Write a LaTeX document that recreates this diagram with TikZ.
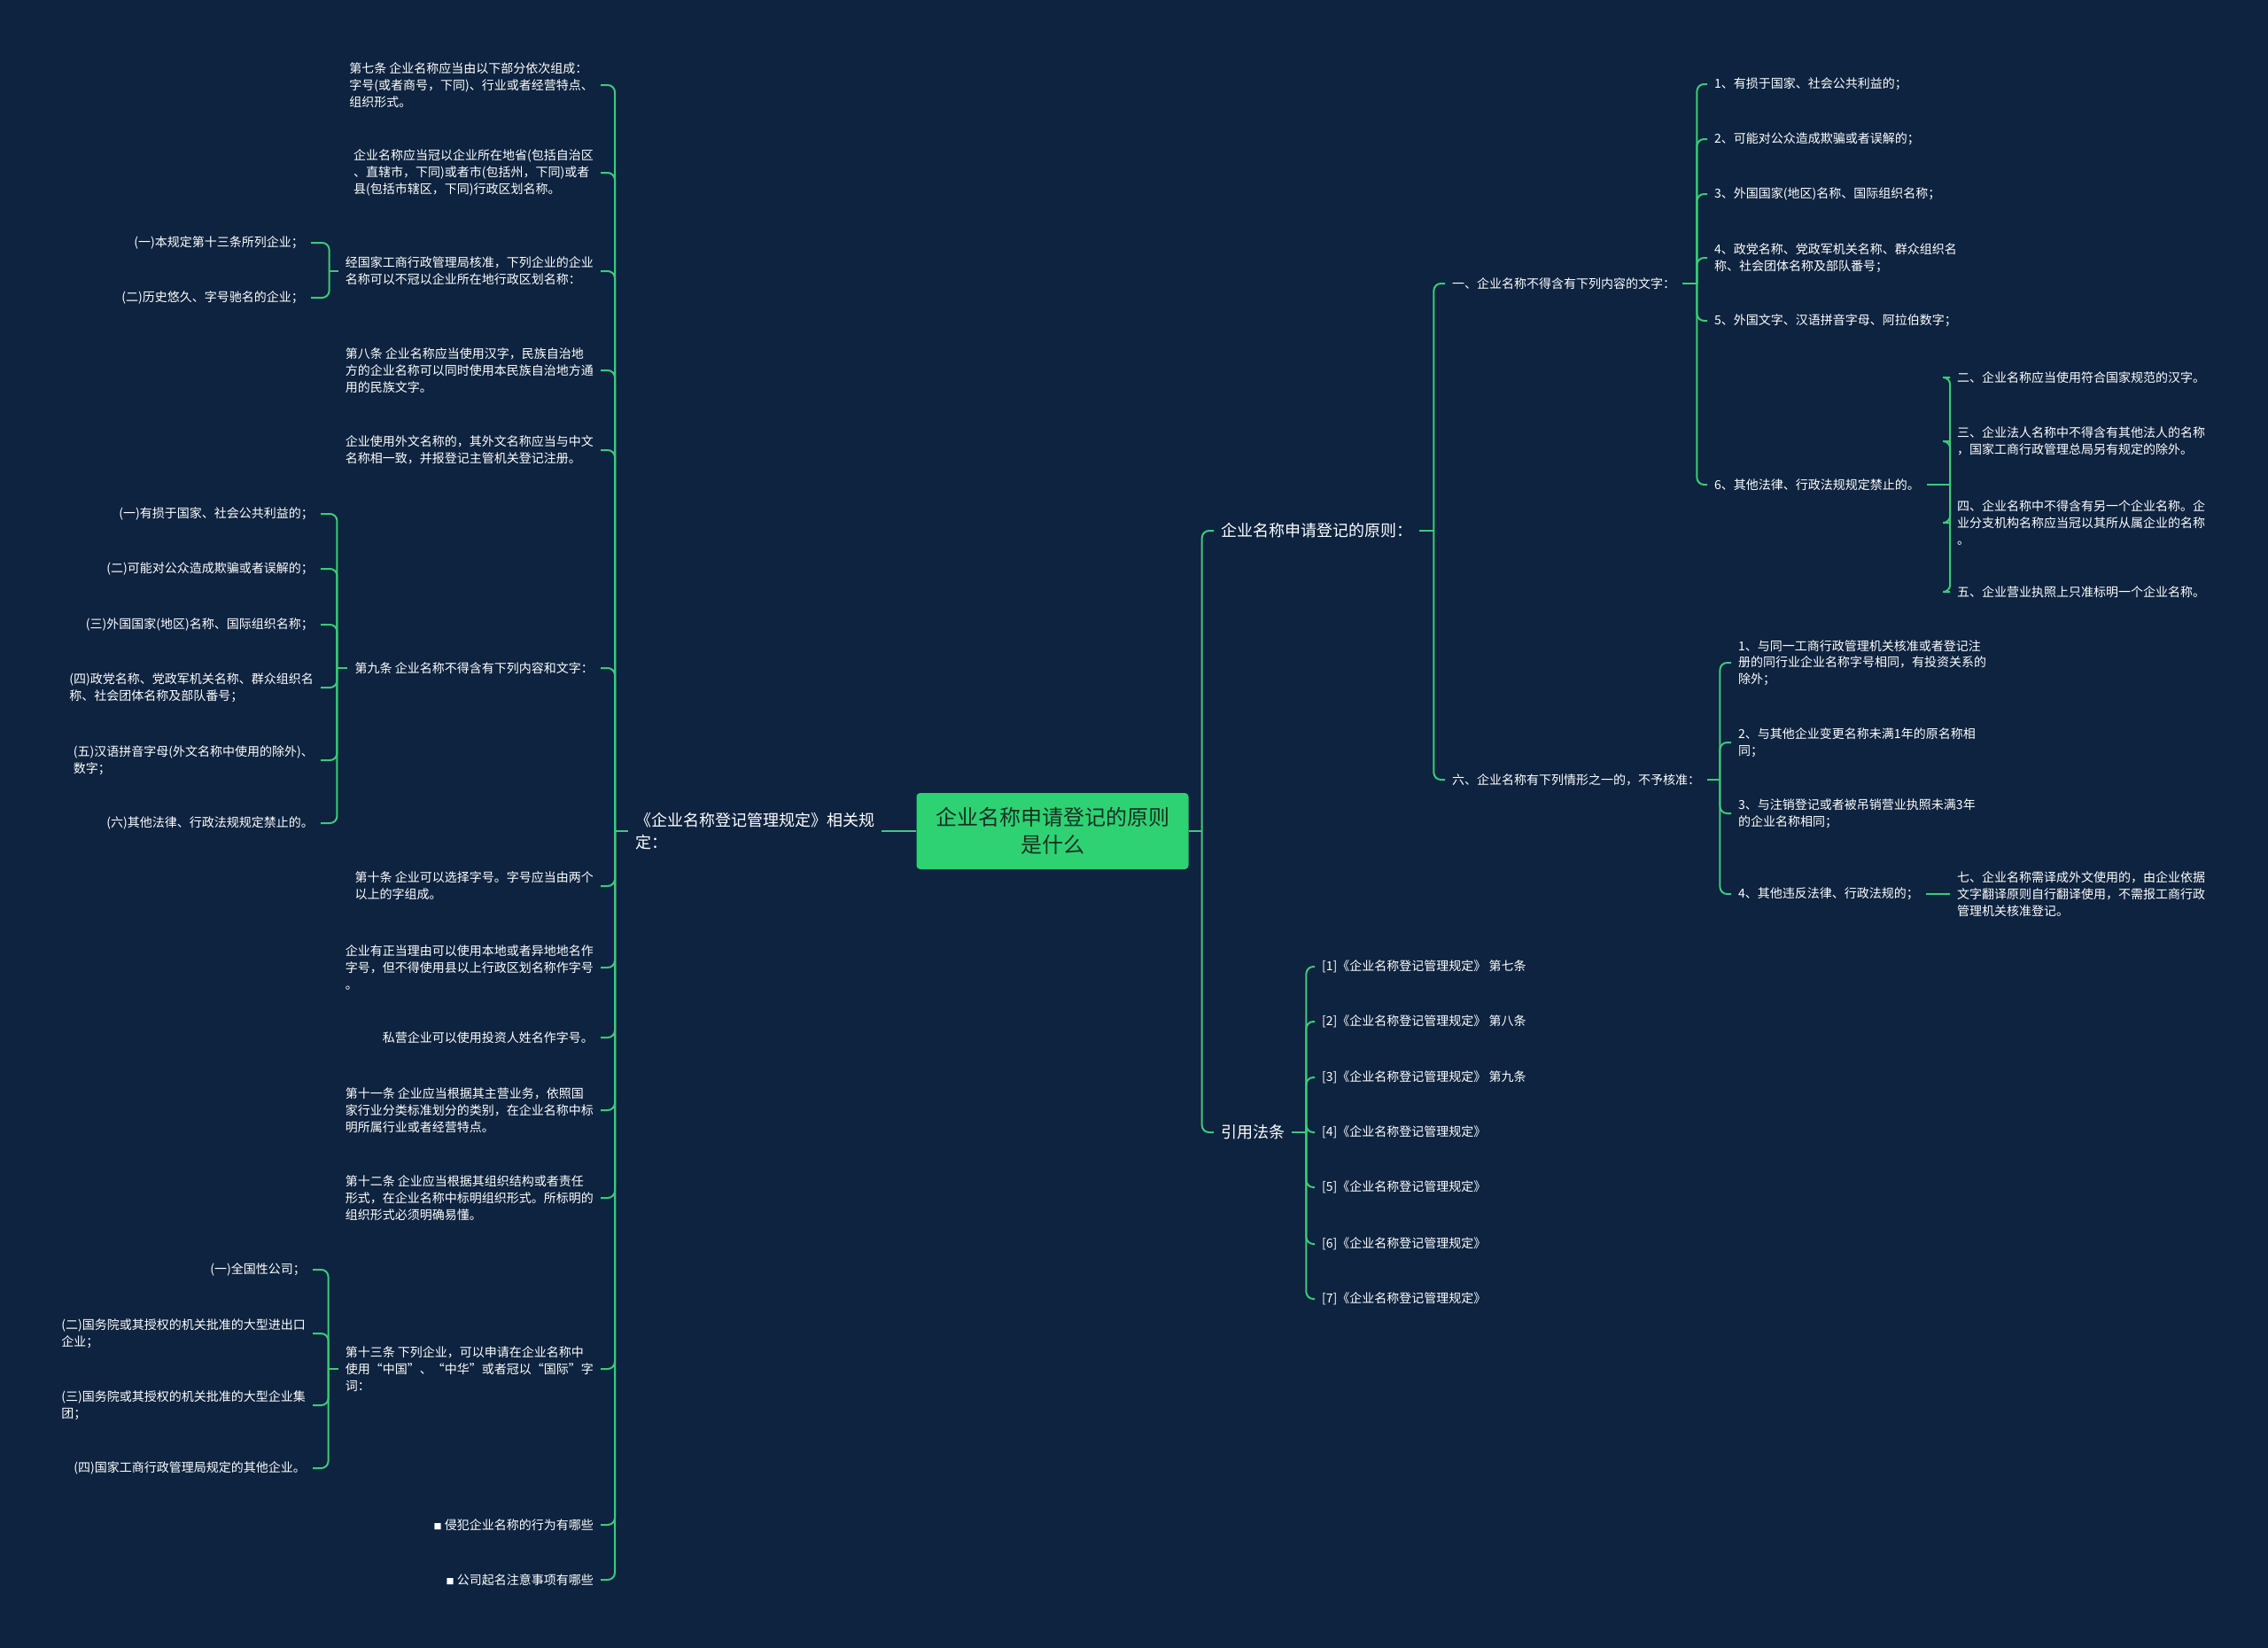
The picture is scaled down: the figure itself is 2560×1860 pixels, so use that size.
\documentclass[tikz,border=0pt]{standalone}
\usepackage{fontspec}
\setmainfont{Noto Sans CJK SC}
\definecolor{bgnavy}{RGB}{13,35,63}
\definecolor{linkgreen}{RGB}{62,201,122}
\definecolor{rootgreen}{RGB}{46,210,115}
\definecolor{roottext}{RGB}{24,48,36}
\newcommand{\mapbullet}{{\fontsize{9}{9}\selectfont ■}}

\begin{document}
\begin{tikzpicture}[
    x=1pt, y=-1pt,
    leaf/.style={inner xsep=8pt, inner ysep=2pt, text=white, align=left, font=\fontsize{14}{18.7}\selectfont},
    branch/.style={leaf, font=\fontsize{18}{25}\selectfont},
    root/.style={fill=rootgreen, text=roottext, rounded corners=4pt, minimum width=307pt, minimum height=86pt, align=center, font=\fontsize{24}{31}\selectfont},
    link/.style={draw=linkgreen, line width=2pt, rounded corners=8pt}
  ]
    \fill[bgnavy] (0,0) rectangle (2560,1860);
    \useasboundingbox (0,0) rectangle (2560,1860);
    \node[root] (root) at (1188,938) {企业名称申请登记的原则\\是什么};

    \node[branch, anchor=west] (law) at (709,938) {《企业名称登记管理规定》相关规\\定：};
    \draw[link] (root.west) -- (law.east);

    \node[leaf, anchor=east] (c7) at (678,96) {第七条 企业名称应当由以下部分依次组成：\\字号(或者商号，下同)、行业或者经营特点、\\组织形式。};
    \node[leaf, anchor=east] (c7b) at (678,195) {企业名称应当冠以企业所在地省(包括自治区\\、直辖市，下同)或者市(包括州，下同)或者\\县(包括市辖区，下同)行政区划名称。};
    \node[leaf, anchor=east] (cjg) at (678,306) {经国家工商行政管理局核准，下列企业的企业\\名称可以不冠以企业所在地行政区划名称：};
    \node[leaf, anchor=east] (c8) at (678,418) {第八条 企业名称应当使用汉字，民族自治地\\方的企业名称可以同时使用本民族自治地方通\\用的民族文字。};
    \node[leaf, anchor=east] (cwai) at (678,508) {企业使用外文名称的，其外文名称应当与中文\\名称相一致，并报登记主管机关登记注册。};
    \node[leaf, anchor=east] (c9) at (678,754) {第九条 企业名称不得含有下列内容和文字：};
    \node[leaf, anchor=east] (c10) at (678,1000) {第十条 企业可以选择字号。字号应当由两个\\以上的字组成。};
    \node[leaf, anchor=east] (c10b) at (678,1092) {企业有正当理由可以使用本地或者异地地名作\\字号，但不得使用县以上行政区划名称作字号\\。};
    \node[leaf, anchor=east] (c10c) at (678,1171) {私营企业可以使用投资人姓名作字号。};
    \node[leaf, anchor=east] (c11) at (678,1253) {第十一条 企业应当根据其主营业务，依照国\\家行业分类标准划分的类别，在企业名称中标\\明所属行业或者经营特点。};
    \node[leaf, anchor=east] (c12) at (678,1352) {第十二条 企业应当根据其组织结构或者责任\\形式，在企业名称中标明组织形式。所标明的\\组织形式必须明确易懂。};
    \node[leaf, anchor=east] (c13) at (678,1545) {第十三条 下列企业，可以申请在企业名称中\\使用“中国”、“中华”或者冠以“国际”字\\词：};
    \node[leaf, anchor=east] (lk1) at (678,1721) {\mapbullet\ 侵犯企业名称的行为有哪些};
    \node[leaf, anchor=east] (lk2) at (678,1783) {\mapbullet\ 公司起名注意事项有哪些};
    \draw[link] (law.west) -- ++(-15,0) coordinate (lawfork);
    \foreach \n in {c7,c7b,cjg,c8,cwai,c9,c10,c10b,c10c,c11,c12,c13,lk1,lk2}
      \draw[link] (lawfork) |- (\n.east);

    \node[leaf, anchor=east] (jg1) at (351,274) {(一)本规定第十三条所列企业；};
    \node[leaf, anchor=east] (jg2) at (351,336) {(二)历史悠久、字号驰名的企业；};
    \draw[link] (cjg.west) -- ++(-10,0) coordinate (jgfork);
    \foreach \n in {jg1,jg2}
      \draw[link] (jgfork) |- (\n.east);

    \node[leaf, anchor=east] (n1) at (362,580) {(一)有损于国家、社会公共利益的；};
    \node[leaf, anchor=east] (n2) at (362,642) {(二)可能对公众造成欺骗或者误解的；};
    \node[leaf, anchor=east] (n3) at (362,705) {(三)外国国家(地区)名称、国际组织名称；};
    \node[leaf, anchor=east] (n4) at (362,776) {(四)政党名称、党政军机关名称、群众组织名\\称、社会团体名称及部队番号；};
    \node[leaf, anchor=east] (n5) at (362,858) {(五)汉语拼音字母(外文名称中使用的除外)、\\数字；};
    \node[leaf, anchor=east] (n6) at (362,929) {(六)其他法律、行政法规规定禁止的。};
    \draw[link] (c9.west) -- ++(-12,0) coordinate (c9fork);
    \foreach \n in {n1,n2,n3,n4,n5,n6}
      \draw[link] (c9fork) |- (\n.east);

    \node[leaf, anchor=east] (g1) at (353,1433) {(一)全国性公司；};
    \node[leaf, anchor=east] (g2) at (353,1505) {(二)国务院或其授权的机关批准的大型进出口\\企业；};
    \node[leaf, anchor=east] (g3) at (353,1586) {(三)国务院或其授权的机关批准的大型企业集\\团；};
    \node[leaf, anchor=east] (g4) at (353,1657) {(四)国家工商行政管理局规定的其他企业。};
    \draw[link] (c13.west) -- ++(-11,0) coordinate (c13fork);
    \foreach \n in {g1,g2,g3,g4}
      \draw[link] (c13fork) |- (\n.east);

    \node[branch, anchor=west] (yuanze) at (1370,599) {企业名称申请登记的原则：};
    \node[branch, anchor=west] (yinyong) at (1370,1278) {引用法条};
    \draw[link] (root.east) -- ++(15,0) coordinate (rootfork);
    \foreach \n in {yuanze,yinyong}
      \draw[link] (rootfork) |- (\n.west);

    \node[leaf, anchor=west] (ya) at (1631,320) {一、企业名称不得含有下列内容的文字：};
    \node[leaf, anchor=west] (yb) at (1631,880) {六、企业名称有下列情形之一的，不予核准：};
    \draw[link] (yuanze.east) -- ++(16,0) coordinate (yzfork);
    \foreach \n in {ya,yb}
      \draw[link] (yzfork) |- (\n.west);

    \node[leaf, anchor=west] (a1) at (1927,95) {1、有损于国家、社会公共利益的；};
    \node[leaf, anchor=west] (a2) at (1927,157) {2、可能对公众造成欺骗或者误解的；};
    \node[leaf, anchor=west] (a3) at (1927,219) {3、外国国家(地区)名称、国际组织名称；};
    \node[leaf, anchor=west] (a4) at (1927,291) {4、政党名称、党政军机关名称、群众组织名\\称、社会团体名称及部队番号；};
    \node[leaf, anchor=west] (a5) at (1927,362) {5、外国文字、汉语拼音字母、阿拉伯数字；};
    \node[leaf, anchor=west] (a6) at (1927,547) {6、其他法律、行政法规规定禁止的。};
    \draw[link] (ya.east) -- ++(16,0) coordinate (yafork);
    \foreach \n in {a1,a2,a3,a4,a5,a6}
      \draw[link] (yafork) |- (\n.west);

    \node[leaf, anchor=west] (s2) at (2201,426) {二、企业名称应当使用符合国家规范的汉字。};
    \node[leaf, anchor=west] (s3) at (2201,498) {三、企业法人名称中不得含有其他法人的名称\\，国家工商行政管理总局另有规定的除外。};
    \node[leaf, anchor=west] (s4) at (2201,590) {四、企业名称中不得含有另一个企业名称。企\\业分支机构名称应当冠以其所从属企业的名称\\。};
    \node[leaf, anchor=west] (s5) at (2201,668) {五、企业营业执照上只准标明一个企业名称。};
    \draw[link] (a6.east) -- ++(26,0) coordinate (a6fork);
    \foreach \n in {s2,s3,s4,s5}
      \draw[link] (a6fork) |- (\n.west);

    \node[leaf, anchor=west] (b1) at (1954,748) {1、与同一工商行政管理机关核准或者登记注\\册的同行业企业名称字号相同，有投资关系的\\除外；};
    \node[leaf, anchor=west] (b2) at (1954,838) {2、与其他企业变更名称未满1年的原名称相\\同；};
    \node[leaf, anchor=west] (b3) at (1954,918) {3、与注销登记或者被吊销营业执照未满3年\\的企业名称相同；};
    \node[leaf, anchor=west] (b4) at (1954,1009) {4、其他违反法律、行政法规的；};
    \draw[link] (yb.east) -- ++(14,0) coordinate (ybfork);
    \foreach \n in {b1,b2,b3,b4}
      \draw[link] (ybfork) |- (\n.west);
    \node[leaf, anchor=west] (b7) at (2201,1009) {七、企业名称需译成外文使用的，由企业依据\\文字翻译原则自行翻译使用，不需报工商行政\\管理机关核准登记。};
    \draw[link] (b4.east) -- (b7.west);

    \draw[link] (yinyong.east) -- ++(16,0) coordinate (yyfork);
    \foreach \i/\y/\t in {1/1091/第七条, 2/1153/第八条, 3/1216/第九条, 4/1278/, 5/1340/, 6/1404/, 7/1466/}{
      \node[leaf, anchor=west] (ref\i) at (1484,\y) {[\i]《企业名称登记管理规定》\ \t};
      \draw[link] (yyfork) |- (ref\i.west);
    }
  \end{tikzpicture}
\end{document}
